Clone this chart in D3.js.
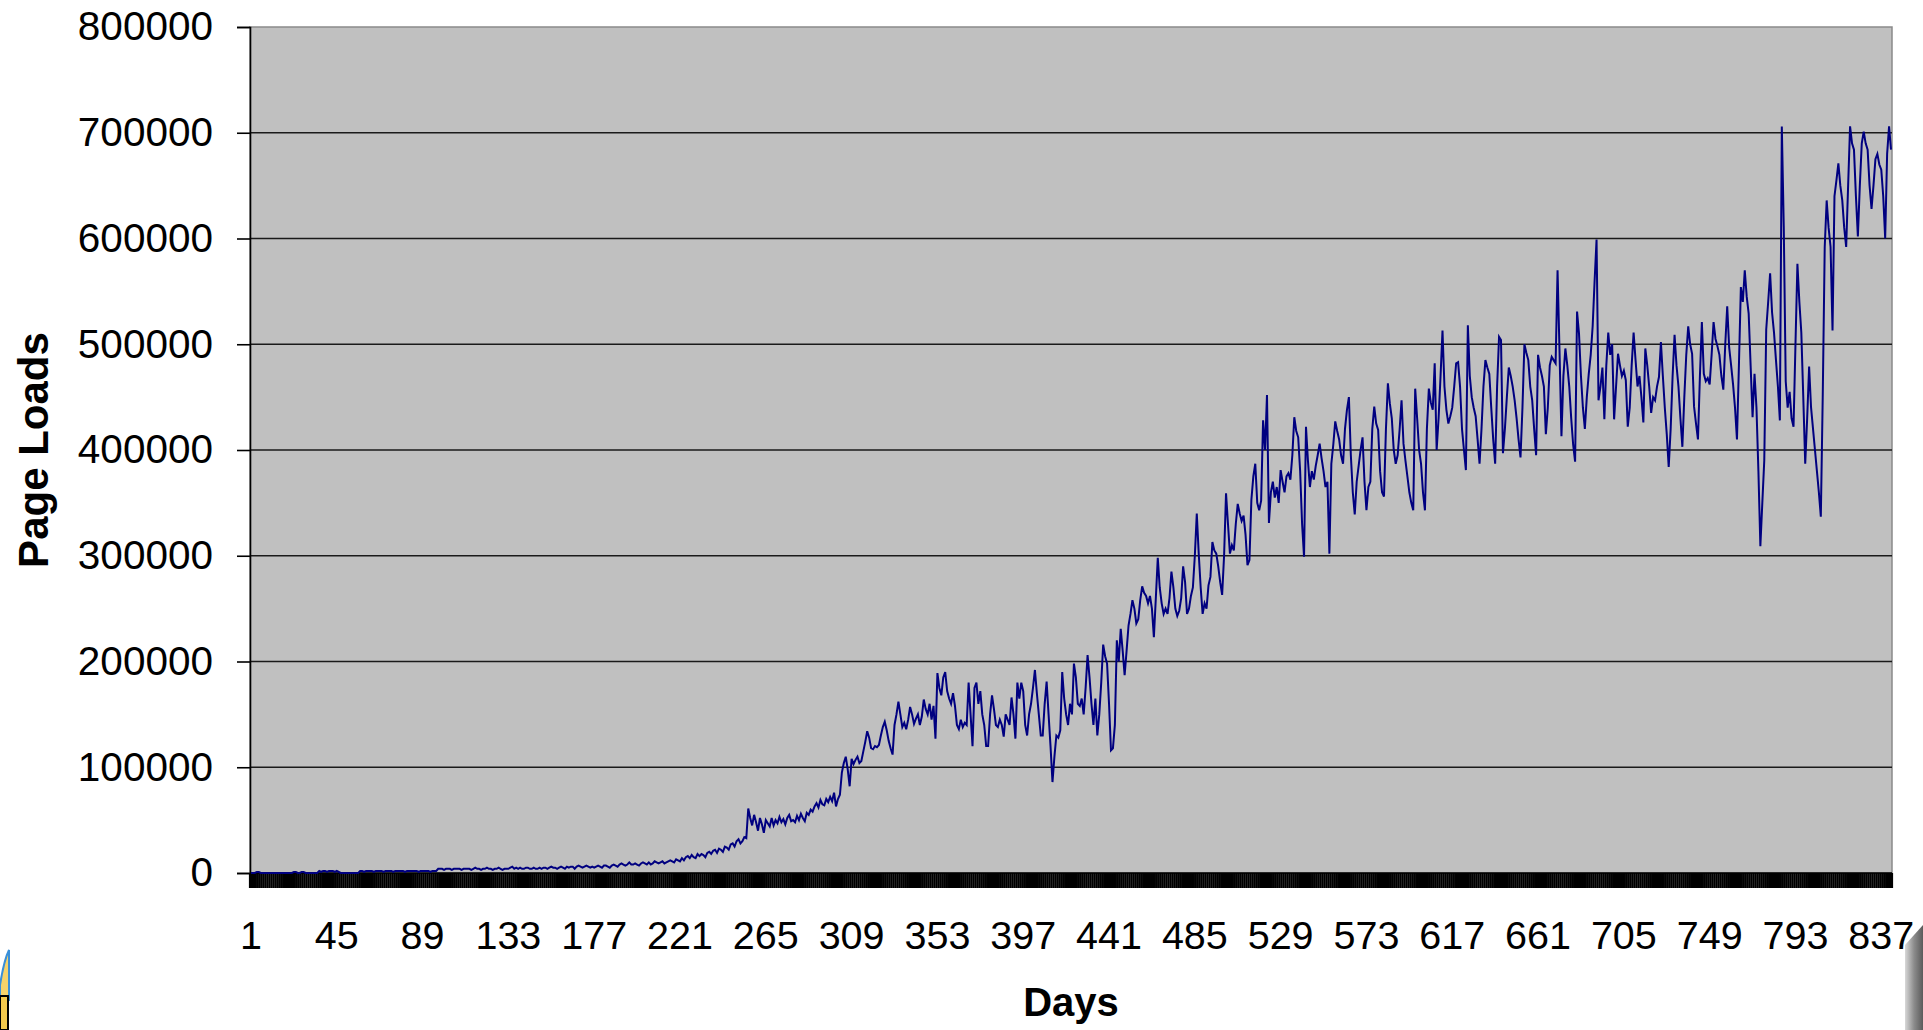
<!DOCTYPE html>
<html>
<head>
<meta charset="utf-8">
<script src="https://cdn.jsdelivr.net/npm/d3@7"></script>
<style>
  html, body { margin: 0; padding: 0; background: #ffffff; }
  svg { display: block; }
  text { font-family: "Liberation Sans", Arial, sans-serif; fill: #000; }
</style>
</head>
<body>
<svg id="chart" width="1923" height="1030"></svg>
<script>
// Daily page loads, in thousands (day 1 .. day 842)
const pageLoadsThousands = [
  0,0,0,1,1,0,0,0,0,0,0,0,0,0,
  0,0,0,0,0,0,0,0,1,1,0,0,1,1,
  0,0,0,0,0,0,0,2,1,2,2,1,2,2,
  2,1,2,1,0,0,0,0,0,0,0,0,0,0,
  2,2,1,2,2,2,2,1,2,2,2,2,1,2,
  2,2,2,1,2,2,2,2,2,1,2,2,2,2,
  2,2,1,2,2,2,2,2,1,2,2,2,4,4,
  4,3,4,4,4,3,4,4,4,4,3,4,4,4,
  4,3,4,5,4,4,3,4,4,5,4,4,3,4,
  4,5,4,3,4,4,4,5,6,4,5,4,5,4,
  4,5,5,4,4,5,4,4,5,4,5,5,4,5,
  6,5,5,4,5,6,5,4,6,5,6,6,4,6,
  7,6,5,6,7,6,5,6,5,6,7,6,5,7,
  7,6,5,7,8,7,6,8,9,8,7,8,10,8,
  8,9,8,7,9,10,9,8,10,8,9,11,10,9,
  10,11,9,10,11,12,11,10,13,12,11,14,12,15,
  16,14,17,15,14,18,16,18,17,15,19,20,18,21,
  22,19,23,22,20,25,24,22,27,28,25,30,32,28,
  30,34,33,61,52,45,55,48,40,52,46,38,50,47,
  44,52,45,50,47,53,48,51,46,52,55,49,50,48,
  54,50,56,52,49,57,55,60,58,63,66,62,69,65,
  64,70,67,72,68,76,63,70,74,95,104,110,98,82,
  108,103,107,110,104,106,115,124,134,128,118,117,120,119,
  121,130,138,143,135,125,118,112,140,150,162,150,138,142,
  136,145,157,150,141,146,150,140,148,164,155,150,160,145,
  158,127,189,175,168,185,190,172,165,160,170,158,140,136,
  145,138,142,140,180,150,120,175,180,160,172,150,140,120,
  120,150,168,155,140,138,145,140,129,150,145,140,166,150,
  127,180,165,180,172,140,130,150,160,175,192,170,150,130,
  130,160,181,150,120,86,110,130,128,135,190,165,150,140,
  160,150,198,185,160,158,165,150,175,206,185,160,140,165,
  130,150,180,216,205,198,160,116,118,140,220,200,231,210,
  187,210,234,245,258,250,236,240,258,271,265,262,255,262,
  250,223,260,298,270,255,245,250,245,260,285,270,250,243,
  248,260,290,275,245,250,262,270,300,340,302,270,245,255,
  250,272,280,313,305,302,290,275,263,300,359,330,302,310,
  305,330,349,340,333,338,320,291,296,353,375,387,350,343,
  352,428,400,452,331,360,370,355,365,350,381,370,360,375,
  378,372,395,431,418,412,380,330,299,422,390,365,380,372,
  385,395,406,392,380,365,370,302,387,405,427,418,410,395,
  387,420,438,450,395,360,339,370,385,400,412,370,343,365,
  370,420,441,425,419,380,360,356,420,463,444,430,400,387,
  395,419,447,406,390,375,360,350,343,458,430,400,387,360,
  343,420,458,445,438,482,400,430,470,513,460,438,425,432,
  440,460,482,483,460,420,400,381,518,470,450,440,432,410,
  387,420,460,485,478,472,440,410,387,460,507,504,397,420,
  450,478,470,460,447,430,410,393,440,500,492,485,460,447,
  420,395,490,478,470,460,415,440,480,488,485,482,570,494,
  413,470,496,480,460,430,405,389,531,510,470,440,420,450,
  472,490,517,560,599,447,460,478,429,480,511,490,500,429,
  460,491,480,470,475,466,422,440,480,511,485,460,470,450,
  426,496,480,460,435,450,447,460,469,502,470,440,415,384,
  420,470,509,480,460,430,403,450,490,517,500,491,441,425,
  410,470,521,472,465,468,462,490,521,505,498,490,470,457,
  500,536,497,480,462,440,410,480,554,540,570,545,529,480,
  431,472,440,380,309,350,390,514,540,567,530,511,485,460,
  428,706,611,465,440,455,430,422,500,576,540,511,450,387,
  430,479,440,420,400,380,360,337,453,592,636,610,592,513,
  640,655,671,650,636,610,592,650,706,690,684,640,602,650,
  690,701,690,684,650,628,650,675,680,670,665,640,600,680,
  706,684
];
const days = pageLoadsThousands.map((_, i) => i + 1);
const pageLoads = pageLoadsThousands.map(v => v * 1000);

const yTickValues = [0, 100000, 200000, 300000, 400000, 500000, 600000, 700000, 800000];
const xTickLabels = [1, 45, 89, 133, 177, 221, 265, 309, 353, 397, 441, 485, 529, 573, 617, 661, 705, 749, 793, 837];
const yAxisTitle = "Page Loads";
const xAxisTitle = "Days";

const svg = d3.select("#chart");
const plot = { left: 250, right: 1892, top: 27, bottom: 873 };

const x = d3.scaleBand()
  .domain(days)
  .range([plot.left, plot.right])
  .paddingInner(0).paddingOuter(0);
const xc = d => x(d) + x.bandwidth() / 2;

const y = d3.scaleLinear()
  .domain([0, 800000])
  .range([plot.bottom, plot.top]);

// plot area background
svg.append("rect")
  .attr("x", plot.left).attr("y", plot.top)
  .attr("width", plot.right - plot.left).attr("height", plot.bottom - plot.top)
  .attr("fill", "#c0c0c0")
  .attr("stroke", "#8a8a8a").attr("stroke-width", 1.5);

// horizontal gridlines
svg.append("g")
  .selectAll("line")
  .data(yTickValues.filter(v => v > 0 && v < 800000))
  .join("line")
  .attr("x1", plot.left).attr("x2", plot.right)
  .attr("y1", d => y(d)).attr("y2", d => y(d))
  .attr("stroke", "#1a1a1a").attr("stroke-width", 1.6);

// Y axis
const yAxis = d3.axisLeft(y)
  .tickValues(yTickValues)
  .tickSize(13)
  .tickPadding(24)
  .tickFormat(d3.format("d"));
const gy = svg.append("g")
  .attr("transform", `translate(${plot.left},0)`)
  .call(yAxis);
gy.select(".domain").attr("stroke", "#000").attr("stroke-width", 1.6);
gy.selectAll(".tick line").attr("stroke", "#000").attr("stroke-width", 1.6);
gy.selectAll(".tick text")
  .attr("font-family", "'Liberation Sans', Arial, sans-serif")
  .attr("font-size", 40.5)
  .attr("fill", "#000");

// X axis: tick marks at every day boundary (dense band), labels every 44 days
const boundaries = days.map(d => x(d)).concat([plot.right]);
svg.append("g")
  .selectAll("line")
  .data(boundaries)
  .join("line")
  .attr("x1", d => d).attr("x2", d => d)
  .attr("y1", plot.bottom).attr("y2", plot.bottom + 15)
  .attr("stroke", "#000").attr("stroke-width", 2.2);

svg.append("line")
  .attr("x1", plot.left).attr("x2", plot.right)
  .attr("y1", plot.bottom).attr("y2", plot.bottom)
  .attr("stroke", "#000").attr("stroke-width", 1.6);

svg.append("g")
  .selectAll("text")
  .data(xTickLabels)
  .join("text")
  .attr("x", d => xc(d))
  .attr("y", 949)
  .attr("text-anchor", "middle")
  .attr("font-size", 39.5)
  .text(d => d);

// data line
const line = d3.line()
  .x((d, i) => xc(days[i]))
  .y(d => y(d));
svg.append("path")
  .datum(pageLoads)
  .attr("d", line)
  .attr("fill", "none")
  .attr("stroke", "#000080")
  .attr("stroke-width", 2)
  .attr("stroke-linejoin", "miter");

// axis titles
svg.append("text")
  .attr("transform", `translate(48,450) rotate(-90)`)
  .attr("text-anchor", "middle")
  .attr("font-weight", "bold")
  .attr("font-size", 42)
  .text(yAxisTitle);

svg.append("text")
  .attr("x", (plot.left + plot.right) / 2)
  .attr("y", 1016)
  .attr("text-anchor", "middle")
  .attr("font-weight", "bold")
  .attr("font-size", 40)
  .text(xAxisTitle);

// slide decorations at the bottom corners
const grad = svg.append("defs").append("linearGradient")
  .attr("id", "cornerGrad").attr("x1", "0").attr("x2", "1").attr("y1", "0").attr("y2", "0");
grad.append("stop").attr("offset", "0").attr("stop-color", "#d8d8d8");
grad.append("stop").attr("offset", "0.5").attr("stop-color", "#8c8c8c");
grad.append("stop").attr("offset", "1").attr("stop-color", "#5a5a5a");
svg.append("path")
  .attr("d", "M1905,945 L1923,925 L1923,1030 L1905,1030 Z")
  .attr("fill", "url(#cornerGrad)");

svg.append("path")
  .attr("d", "M0,985 Q4,960 9,950 L9,1000 L0,1000 Z")
  .attr("fill", "#f6d36b").attr("stroke", "#3a8fd8").attr("stroke-width", 2);
svg.append("rect")
  .attr("x", 0).attr("y", 996).attr("width", 8).attr("height", 34)
  .attr("fill", "#f3c94d").attr("stroke", "#000").attr("stroke-width", 2);
</script>
